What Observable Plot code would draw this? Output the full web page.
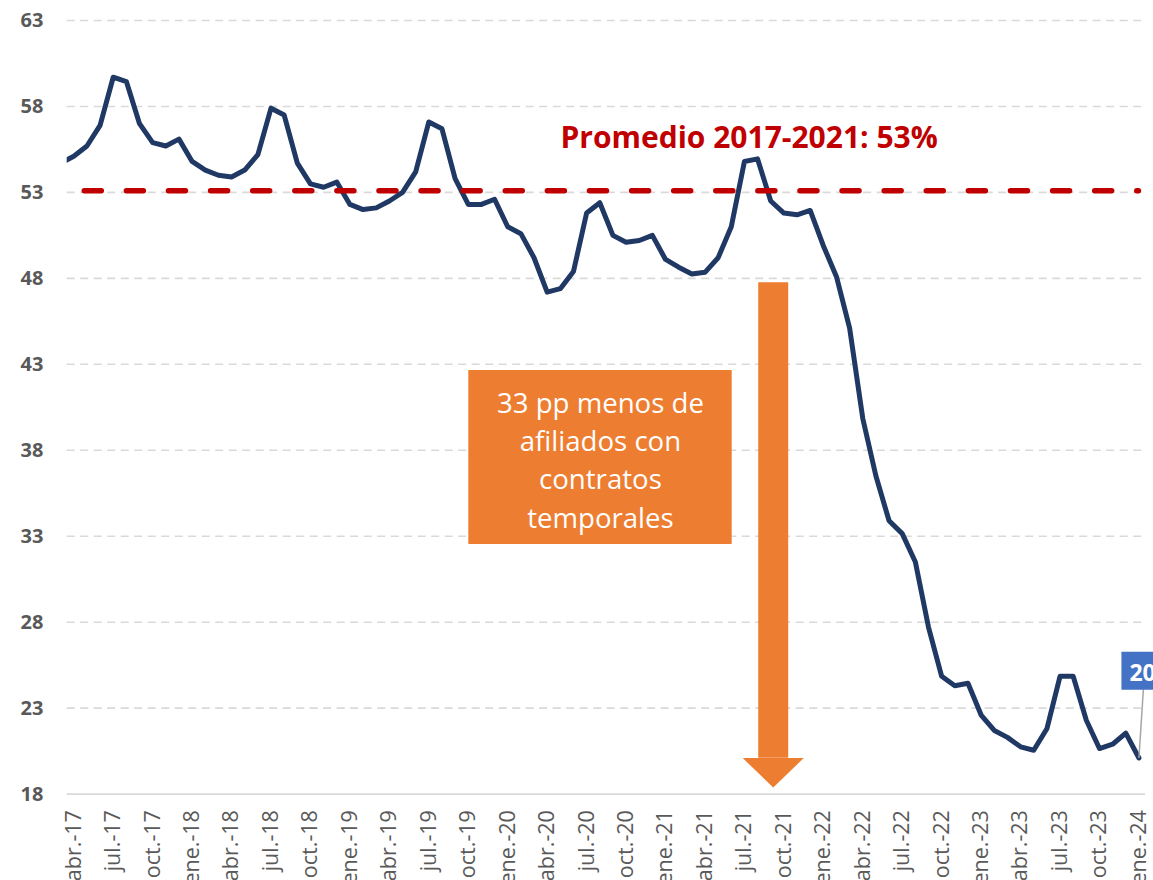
<!DOCTYPE html>
<html>
<head>
<meta charset="utf-8">
<script src="https://cdn.jsdelivr.net/npm/d3@7"></script>
<script src="https://cdn.jsdelivr.net/npm/@observablehq/plot@0.6"></script>
<style>
  html, body { margin: 0; padding: 0; background: #ffffff; overflow: hidden; }
  #chart svg { display: block; }
</style>
</head>
<body>
<div id="chart"></div>
<script>
// ---- Data ----
const months = [
  "mar.-17","abr.-17","may.-17","jun.-17","jul.-17","ago.-17","sep.-17","oct.-17","nov.-17","dic.-17",
  "ene.-18","feb.-18","mar.-18","abr.-18","may.-18","jun.-18","jul.-18","ago.-18","sep.-18","oct.-18","nov.-18","dic.-18",
  "ene.-19","feb.-19","mar.-19","abr.-19","may.-19","jun.-19","jul.-19","ago.-19","sep.-19","oct.-19","nov.-19","dic.-19",
  "ene.-20","feb.-20","mar.-20","abr.-20","may.-20","jun.-20","jul.-20","ago.-20","sep.-20","oct.-20","nov.-20","dic.-20",
  "ene.-21","feb.-21","mar.-21","abr.-21","may.-21","jun.-21","jul.-21","ago.-21","sep.-21","oct.-21","nov.-21","dic.-21",
  "ene.-22","feb.-22","mar.-22","abr.-22","may.-22","jun.-22","jul.-22","ago.-22","sep.-22","oct.-22","nov.-22","dic.-22",
  "ene.-23","feb.-23","mar.-23","abr.-23","may.-23","jun.-23","jul.-23","ago.-23","sep.-23","oct.-23","nov.-23","dic.-23",
  "ene.-24"
];
const values = [
  54.7, 55.1, 55.7, 56.9, 59.7, 59.45, 57.0, 55.9, 55.7, 56.1,
  54.8, 54.3, 54.0, 53.9, 54.3, 55.2, 57.9, 57.5, 54.7, 53.5, 53.3, 53.6,
  52.3, 52.0, 52.1, 52.5, 53.0, 54.2, 57.1, 56.7, 53.8, 52.3, 52.3, 52.6,
  51.0, 50.6, 49.2, 47.2, 47.4, 48.4, 51.8, 52.4, 50.5, 50.1, 50.2, 50.5,
  49.1, 48.65, 48.25, 48.35, 49.2, 51.0, 54.8, 54.95, 52.5, 51.8, 51.7, 51.95,
  49.9, 48.1, 45.1, 39.85, 36.5, 33.9, 33.15, 31.5, 27.7, 24.85, 24.3, 24.45,
  22.6, 21.7, 21.3, 20.75, 20.55, 21.8, 24.85, 24.85, 22.3, 20.65, 20.9, 21.55,
  20.1
];
const tickLabels = ["abr.-17","jul.-17","oct.-17","ene.-18","abr.-18","jul.-18","oct.-18","ene.-19","abr.-19","jul.-19","oct.-19","ene.-20","abr.-20","jul.-20","oct.-20","ene.-21","abr.-21","jul.-21","oct.-21","ene.-22","abr.-22","jul.-22","oct.-22","ene.-23","abr.-23","jul.-23","oct.-23","ene.-24"];
const yTicks = [18, 23, 28, 33, 38, 43, 48, 53, 58, 63];
const average = 53.1;
const averageLabel = "Promedio 2017-2021: 53%";
const boxLines = ["33 pp menos de", "afiliados con", "contratos", "temporales"];

// ---- Build table ----
const data = months.map((m, k) => ({k, m, v: values[k]}));
const tickKs = tickLabels.map(t => months.indexOf(t));
const last = data[data.length - 1];

// ---- Annotation placement (data units) ----
const boxPos = {x1: 31.04, x2: 51.07, y1: 32.52, y2: 42.64, cx: 41.05, cy: 37.55};
const arrowPos = {x: 54.19, yTop: 47.74, yBase: 20.09, yHead: 19.24};
const avgLabelPos = {x: 38.01, y: 56.12};

// ---- Colors & custom shapes ----
const navy = "#203864", red = "#C00000", orange = "#ED7D31", blue = "#4472C4", grid = "#D9D9D9", gray = "#595959";
const headSymbol = {draw(ctx) { ctx.moveTo(-30.5, -14.7); ctx.lineTo(30.5, -14.7); ctx.lineTo(0, 14.7); ctx.closePath(); }};
const labelBoxSymbol = {draw(ctx) { ctx.rect(-17.5, -106.3, 46, 38); }};
const leaderSymbol = {draw(ctx) { ctx.moveTo(0, 0); ctx.lineTo(4.5, -69); }};

const chart = Plot.plot({
  width: 1153,
  height: 880,
  marginLeft: 66.7,
  marginRight: 8,
  marginTop: 20,
  marginBottom: 86.4,
  style: {fontFamily: "'Open Sans', sans-serif", color: gray, background: "#ffffff", overflow: "hidden"},
  x: {type: "linear", domain: [0.5, 82.5], label: null},
  y: {domain: [18, 63], label: null},
  marks: [
    Plot.gridY(yTicks.filter(t => t > 18), {stroke: grid, strokeOpacity: 1, strokeWidth: 1.6, strokeDasharray: "8,5.5"}),
    Plot.ruleY([18], {stroke: grid, strokeWidth: 1.8}),
    Plot.axisY({ticks: yTicks, tickSize: 0, tickPadding: 23.7, fontSize: 20, fontWeight: "bold", label: null}),
    Plot.axisX({ticks: tickKs, tickFormat: k => months[k], tickRotate: -90, tickSize: 0, tickPadding: 16, fontSize: 21.5, label: null}),
    // Orange text box
    Plot.rect([0], {x1: boxPos.x1, x2: boxPos.x2, y1: boxPos.y1, y2: boxPos.y2, fill: orange}),
    Plot.text([boxLines.join("\n")], {x: boxPos.cx, y: boxPos.cy, text: d => d, fill: "#ffffff", fontSize: 27.6, lineHeight: 1.39, textAnchor: "middle", lineAnchor: "middle"}),
    // Orange arrow
    Plot.ruleX([arrowPos.x], {y1: arrowPos.yTop, y2: arrowPos.yBase, stroke: orange, strokeWidth: 30}),
    Plot.dot([0], {x: arrowPos.x, y: arrowPos.yHead, symbol: headSymbol, fill: orange, stroke: "none", r: 10}),
    // Series line
    Plot.line(data, {x: "k", y: "v", stroke: navy, strokeWidth: 5, strokeLinejoin: "round", strokeLinecap: "round", clip: true}),
    // Average dashed line + label
    Plot.ruleY([average], {x1: 1, x2: 82, stroke: red, strokeWidth: 5.5, strokeDasharray: "17,25.1", strokeDashoffset: 31.1, strokeLinecap: "round"}),
    Plot.text([averageLabel], {x: avgLabelPos.x, y: avgLabelPos.y, text: d => d, fill: red, fontSize: 30, fontWeight: "bold", textAnchor: "start", lineAnchor: "middle"}),
    // Last value label
    Plot.dot([last], {x: "k", y: "v", symbol: leaderSymbol, fill: "none", stroke: "#A6A6A6", strokeWidth: 1.5, r: 10}),
    Plot.dot([last], {x: "k", y: "v", symbol: labelBoxSymbol, fill: blue, stroke: "none", r: 10}),
    Plot.text([last], {x: "k", y: "v", text: d => String(Math.round(d.v)), dx: -9.5, dy: -84, fill: "#ffffff", fontSize: 23, fontWeight: "bold", textAnchor: "start", lineAnchor: "middle"})
  ]
});
document.getElementById("chart").appendChild(chart);
</script>
</body>
</html>
